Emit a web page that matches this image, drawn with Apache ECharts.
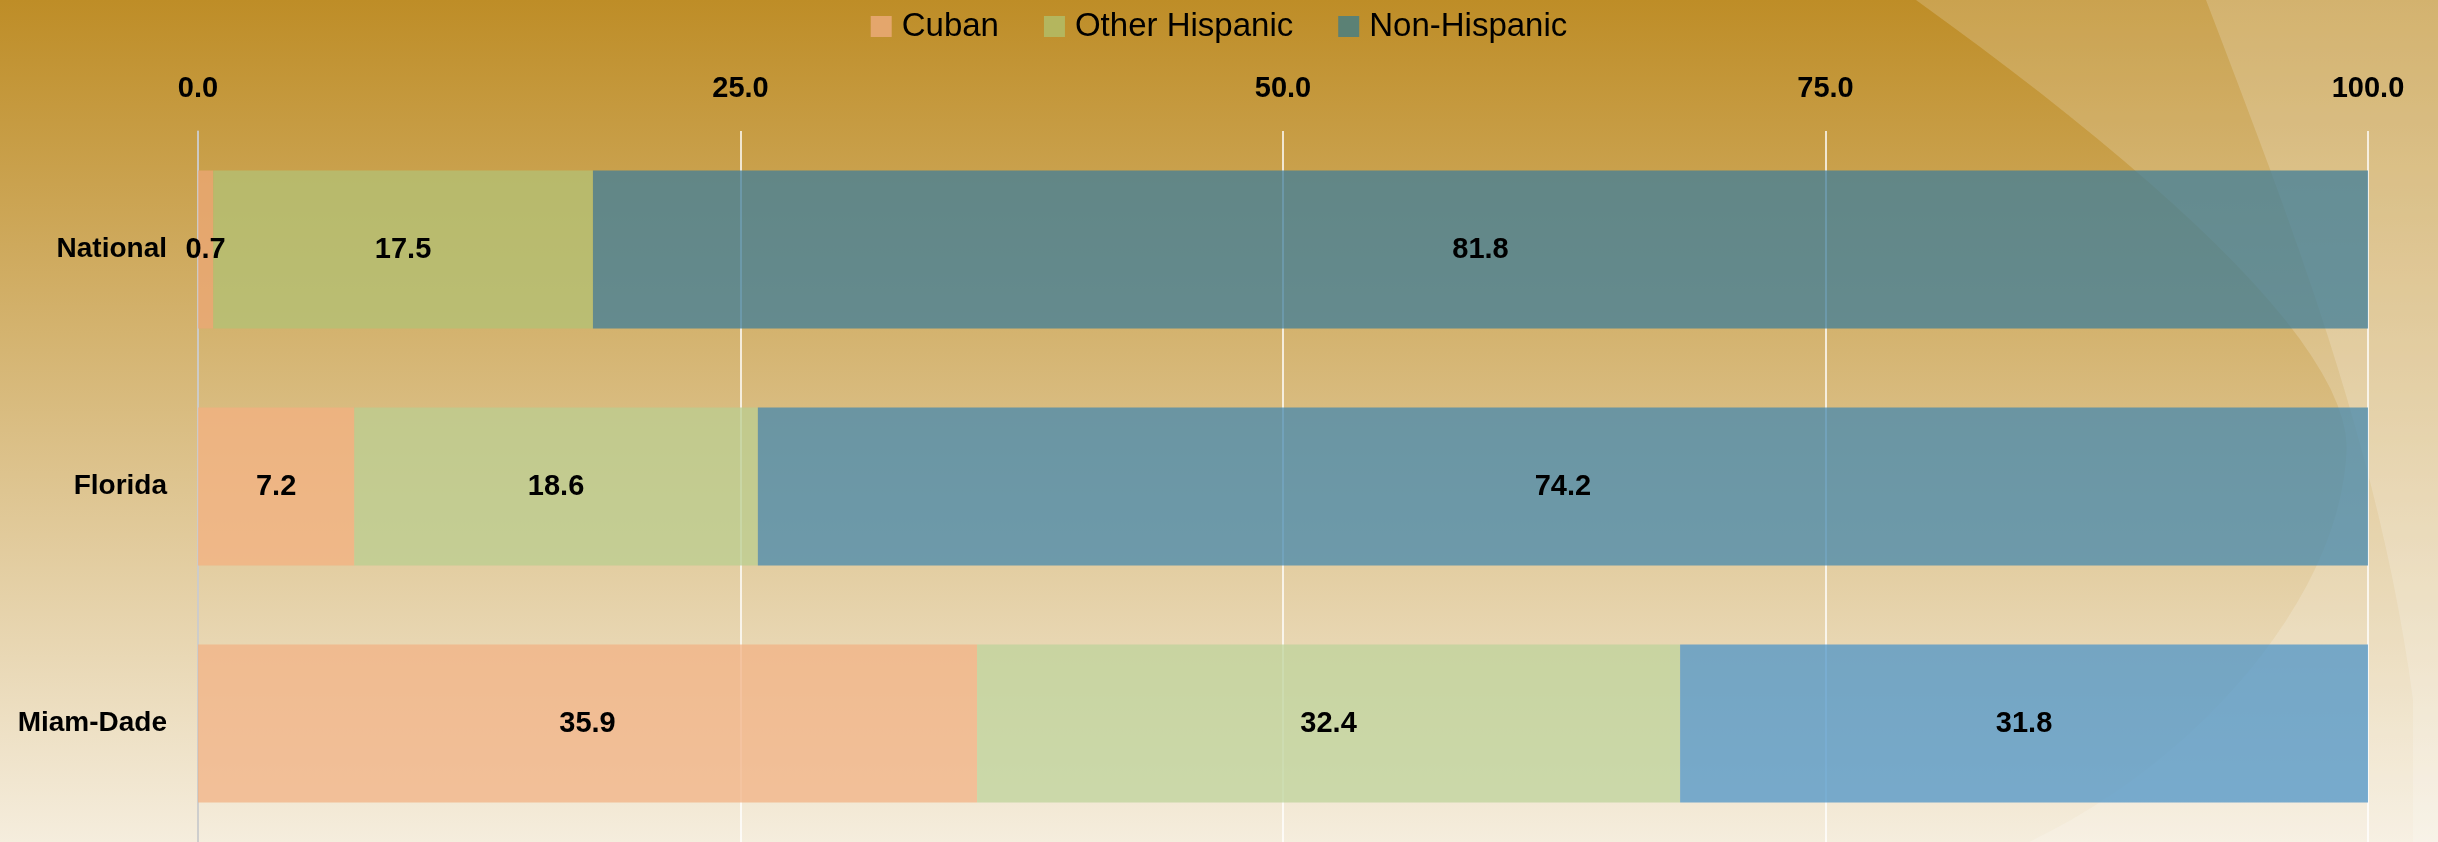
<!DOCTYPE html>
<html>
<head>
<meta charset="utf-8">
<title>Cuban / Other Hispanic / Non-Hispanic</title>
<script src="https://cdn.jsdelivr.net/npm/echarts@6/dist/echarts.min.js"></script>
<style>
  html, body { margin: 0; padding: 0; }
  #chart { width: 2438px; height: 842px; }
</style>
</head>
<body>
<div id="chart"></div>
<script>
// rows, top to bottom
var regions = ['National', 'Florida', 'Miam-Dade']
var seriesNames = ['Cuban', 'Other Hispanic', 'Non-Hispanic']
// share of population, percent
var cuban = [0.7, 7.2, 35.9]
var otherHispanic = [17.5, 18.6, 32.4]
var nonHispanic = [81.8, 74.2, 31.8]
var xTicks = [0, 25, 50, 75, 100]

var FONT = '"Liberation Sans", Arial, sans-serif'

// bars are see-through and get lighter towards the bottom, like the background
var shades = {
  'Cuban': ['rgba(236,167,117,0.75)', 'rgba(243,176,128,0.75)', 'rgba(241,177,132,0.75)'],
  'Other Hispanic': ['rgba(178,194,118,0.75)', 'rgba(186,205,144,0.75)', 'rgba(189,211,155,0.75)'],
  'Non-Hispanic': ['rgba(63,126,153,0.75)', 'rgba(70,136,173,0.75)', 'rgba(78,148,199,0.75)']
}
var legendColors = ['#E4A66C', '#B4B65E', '#5B8175']

// sample cubic curves into a point list (background decoration only)
function curvePoints(segs) {
  var pts = []
  segs.forEach(function(s) {
    for (var i = 0; i <= 24; i++) {
      var t = i / 24, u = 1 - t
      pts.push([
        u * u * u * s[0][0] + 3 * u * u * t * s[1][0] + 3 * u * t * t * s[2][0] + t * t * t * s[3][0],
        u * u * u * s[0][1] + 3 * u * u * t * s[1][1] + 3 * u * t * t * s[2][1] + t * t * t * s[3][1]
      ])
    }
  })
  return pts
}
var swoosh1 = curvePoints([
  [[1916, 0], [2180, 190], [2360, 360], [2346, 460]],
  [[2346, 460], [2335, 600], [2200, 760], [2029, 842]]
]).concat([[2438, 842], [2438, 0]])
var swoosh2 = curvePoints([
  [[2206, 0], [2290, 220], [2380, 450], [2413, 700]]
]).concat([[2413, 842], [2438, 842], [2438, 0]])

function barSeries(name, values) {
  return {
    name: name,
    type: 'bar',
    stack: 'total',
    barCategoryGap: '33.3%',
    data: values,
    itemStyle: {
      color: function(p) {
        return shades[name][p.dataIndex]
      }
    },
    label: {
      show: true,
      position: 'inside',
      color: '#000',
      fontFamily: FONT,
      fontSize: 29,
      fontWeight: 'bold',
      formatter: function(p) {
        return p.value.toFixed(1)
      }
    },
    emphasis: { disabled: true }
  }
}

var chart = echarts.init(document.getElementById('chart'))
chart.setOption({
  animation: false,
  backgroundColor: {
    type: 'linear',
    x: 0, y: 0, x2: 0, y2: 1,
    colorStops: [
      { offset: 0, color: '#BE8D27' },
      { offset: 1, color: '#F5EDDD' }
    ]
  },
  // the two light swooshes on the right of the slide background
  graphic: [
    {
      type: 'polygon',
      silent: true,
      z: 0,
      shape: { points: swoosh1 },
      style: { fill: 'rgba(255,255,255,0.19)' }
    },
    {
      type: 'polygon',
      silent: true,
      z: 0,
      shape: { points: swoosh2 },
      style: { fill: 'rgba(255,255,255,0.18)' }
    }
  ],
  legend: {
    top: 5,
    left: 'center',
    icon: 'rect',
    itemWidth: 21,
    itemHeight: 21,
    itemGap: 45,
    textStyle: {
      color: '#000',
      fontFamily: FONT,
      fontSize: 33,
      padding: [0, 0, 0, 5]
    },
    data: seriesNames.map(function(n, i) {
      return { name: n, itemStyle: { color: legendColors[i], opacity: 1 } }
    })
  },
  grid: {
    left: 198,
    right: 70,
    top: 131,
    bottom: 0,
    containLabel: false,
    outerBoundsMode: 'none'
  },
  xAxis: {
    type: 'value',
    position: 'top',
    min: xTicks[0],
    max: xTicks[xTicks.length - 1],
    interval: xTicks[1] - xTicks[0],
    axisLine: { show: false },
    axisTick: { show: false },
    splitLine: { lineStyle: { color: '#FFFFFF', width: 1.5 } },
    axisLabel: {
      margin: 28,
      color: '#000',
      fontFamily: FONT,
      fontSize: 29,
      fontWeight: 'bold',
      formatter: function(v) {
        return v.toFixed(1)
      }
    }
  },
  yAxis: {
    type: 'category',
    inverse: true,
    data: regions,
    axisLine: { lineStyle: { color: '#BFBFBF', width: 1.5 } },
    axisTick: { show: false },
    splitLine: { show: false },
    axisLabel: {
      margin: 31,
      color: '#000',
      fontFamily: FONT,
      fontSize: 28,
      fontWeight: 'bold'
    }
  },
  series: [
    barSeries(seriesNames[0], cuban),
    barSeries(seriesNames[1], otherHispanic),
    barSeries(seriesNames[2], nonHispanic)
  ]
})
</script>
</body>
</html>
